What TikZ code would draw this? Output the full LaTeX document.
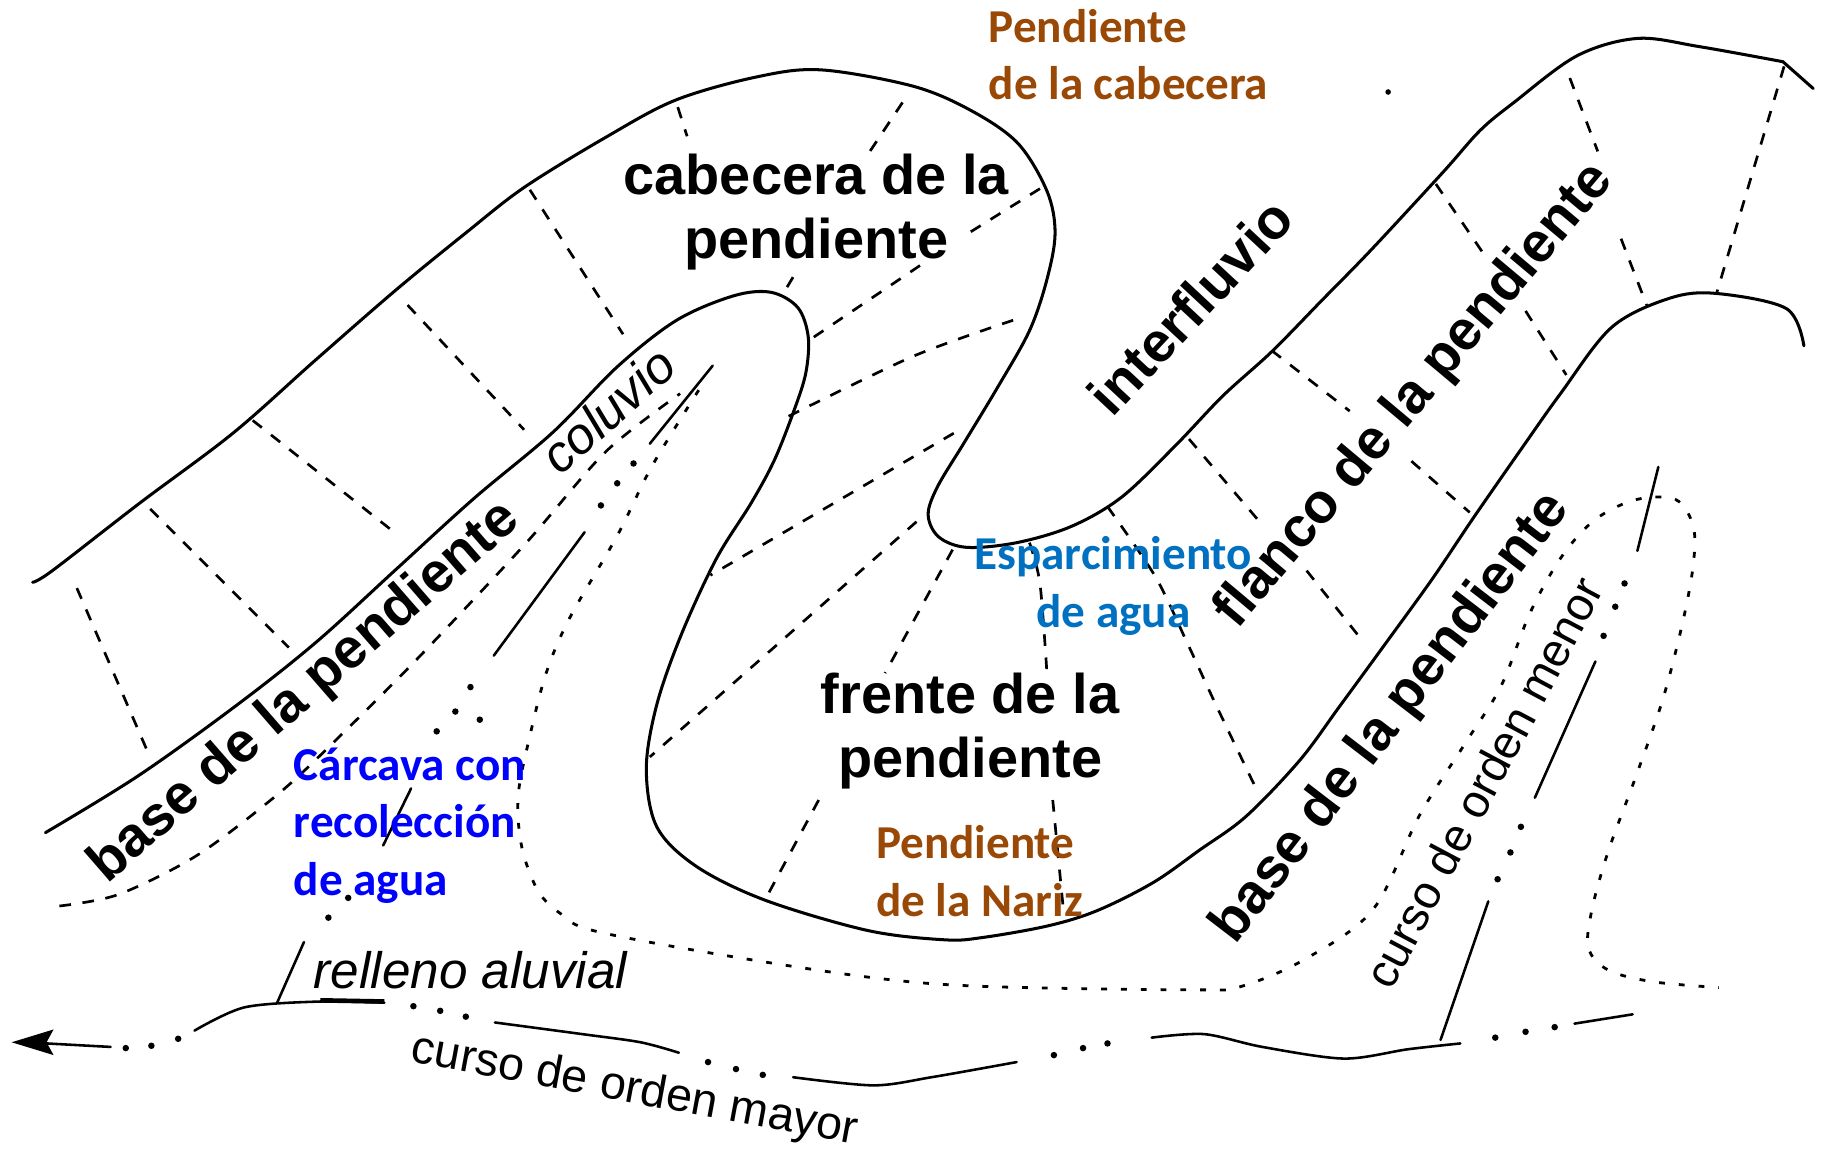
\documentclass[tikz,border=0pt]{standalone}
\usepackage{fontspec}
\setmainfont{Liberation Sans}
\newfontfamily\calib{Carlito}
\definecolor{brownlbl}{RGB}{153,72,6}
\definecolor{waterblue}{RGB}{0,112,192}
\definecolor{gullyblue}{RGB}{0,0,255}
\begin{document}
\begin{tikzpicture}[x=0.5pt,y=-0.5pt,
  edge/.style={line width=1.3pt, line join=round, line cap=round},
  cross/.style={line width=1.15pt, dash pattern=on 5pt off 5pt},
  dotline/.style={line width=1.2pt, dash pattern=on 2.5pt off 6pt},
  stream/.style={line width=1.1pt, line cap=round},
  bold/.style={font=\fontsize{24}{27.5}\selectfont\bfseries, inner sep=0pt, align=center},
  thin/.style={font=\fontsize{20}{24}\selectfont, inner sep=0pt},
  slant/.style={font=\fontsize{22}{26}\selectfont\itshape, inner sep=0pt},
  note/.style={font=\calib\fontsize{20.25}{24.8}\selectfont\bfseries, inner sep=0pt}
]
\useasboundingbox (0,0) rectangle (1568,990);

% outer ridge line (S shaped crest boundary)
\draw[edge] plot[smooth, tension=0.55] coordinates {
 (28,500) (45,490) (120,432) (200,372) (270,310) (340,249) (400,200) (450,161)
 (520,118) (580,86) (650,66) (705,60) (784,74) (834,95) (874,123) (899,164)
 (906,200) (899,240) (884,284) (857,332) (828,380) (805,418) (797,442) (806,461)
 (830,470) (873,466) (920,452) (963,427) (1009,383) (1050,340) (1092,302)
 (1135,258) (1177,215) (1239,148) (1271,112) (1300,88) (1354,48) (1406,33)
 (1459,40) (1531,53)} -- (1557,76);

% inner line (foot of the slopes)
\draw[edge] plot[smooth, tension=0.55] coordinates {
 (39,715) (119,666) (204,605) (272,551) (340,489) (407,428) (475,371) (530,315)
 (581,275) (630,254) (662,251) (685,264) (694,289) (692,320) (682,352) (665,395)
 (645,432) (615,480) (585,545) (564,605) (555,660) (564,710) (598,744) (657,773)
 (745,799) (811,807) (844,805) (900,795) (942,782) (990,758) (1030,730) (1070,701)
 (1116,653) (1150,607) (1188,555) (1230,497) (1265,445) (1306,386) (1340,338)
 (1384,281) (1434,256) (1474,252) (1534,265) (1549,297)};

% slope divisions, left ridge
\draw[cross] (66,505) -- (127,646);
\draw[cross] (129,437) -- (248,556);
\draw[cross] (217,361) -- (341,459);
\draw[cross] (350,262) -- (450,369);
\draw[cross] (455,163) -- (535,287);
\draw[cross] (582,92) -- (590,117);
\draw[cross] (775,88) -- (745,133);
\draw[cross] (681,238) -- (672,253);
\draw[cross] (893,162) -- (832,200);
\draw[cross] (790,228) -- (698,290);

% slope divisions, nose
\draw[cross] plot[smooth] coordinates {(870,275) (784,306) (676,358)};
\draw[cross] (819,372) -- (610,494);
\draw[cross] (787,448) -- (558,650);
\draw[cross] (818,472) -- (760,578);
\draw[cross] (703,687) -- (660,767);
\draw[cross] plot[smooth] coordinates {(884,466) (893,501) (899,578)};
\draw[cross] (904,687) -- (913,780);

% slope divisions, right ridge
\draw[cross] plot[smooth] coordinates {(951,435) (992,495) (1019,551) (1044,605) (1079,678)};
\draw[cross] (1021,377) -- (1085,452);
\draw[cross] (1122,490) -- (1169,549);
\draw[cross] (1092,301) -- (1159,353);
\draw[cross] (1212,396) -- (1262,440);
\draw[cross] (1233,158) -- (1274,218);
\draw[cross] (1310,267) -- (1345,322);
\draw[cross] (1348,67) -- (1372,130);
\draw[cross] (1392,205) -- (1414,262);
\draw[cross] (1532,57) -- (1474,252);
\fill (1192,79) circle[radius=1.2pt];

% colluvium limit
\draw[cross] plot[smooth] coordinates {(51,778) (102,768) (170,734) (241,680)
 (292,632) (360,564) (452,466) (520,388) (584,338)};

% alluvial fill limit
\draw[dotline] plot[smooth, tension=0.55] coordinates {
 (600,335) (560,400) (530,460) (489,531) (469,578) (455,632) (445,683) (448,727)
 (462,765) (482,785) (509,799) (614,819) (745,839) (844,847) (1030,850) (1066,847)
 (1120,824) (1179,781) (1219,700) (1259,637) (1289,589) (1314,526) (1341,478)
 (1370,446) (1405,429) (1439,429) (1454,452) (1454,485) (1445,534) (1428,600)
 (1405,666) (1381,731) (1367,781) (1364,814) (1381,833) (1419,843) (1476,848)};

% gully channel
\draw[stream] (612,314) -- (558,381);
\foreach \p in {(544,398),(530,415),(516,434)} \fill \p circle[radius=1.4pt];
\draw[stream] (502,457) -- (424,563);
\foreach \p in {(404,590),(391,611),(375,628),(412,618)} \fill \p circle[radius=1.4pt];
\draw[stream] (353,677) -- (329,726);
\foreach \p in {(299,771),(282,788)} \fill \p circle[radius=1.4pt];
\draw[stream] (261,809) -- (238,861);

% minor stream
\draw[stream] (1237,893) -- (1278,774);
\foreach \p in {(1286,755),(1297,732),(1306,710)} \fill \p circle[radius=1.4pt];
\draw[stream] (1318,685) -- (1370,568);
\foreach \p in {(1377,546),(1387,521),(1395,501)} \fill \p circle[radius=1.4pt];
\draw[stream] (1406,473) -- (1424,401);

% major stream
\fill (10,895) -- (46,884) -- (40,895) -- (46,906) -- cycle;
\draw[stream] (40,896) -- (95,899);
\foreach \p in {(108,900),(130,898),(153,892)} \fill \p circle[radius=1.4pt];
\draw[stream] plot[smooth] coordinates {(167,885) (210,865) (275,860) (330,861)};
\draw[line width=2pt] (275,859) -- (330,860);
\foreach \p in {(355,864),(378,868),(400,873)} \fill \p circle[radius=1.4pt];
\draw[stream] plot[smooth] coordinates {(425,878) (500,888) (550,895) (583,904)};
\foreach \p in {(608,912),(632,918),(655,923)} \fill \p circle[radius=1.4pt];
\draw[stream] plot[smooth] coordinates {(681,925) (750,932) (800,925) (873,912)};
\foreach \p in {(905,906),(930,900),(951,896)} \fill \p circle[radius=1.4pt];
\draw[stream] plot[smooth] coordinates {(989,891) (1034,888) (1084,899) (1154,909) (1209,901) (1254,896)};
\foreach \p in {(1284,891),(1310,886),(1335,882)} \fill \p circle[radius=1.4pt];
\draw[stream] (1352,879) -- (1402,871);

% landform labels
\node[bold] (head) at (701,182) {cabecera de la\\pendiente};
\node[bold] (front) at (833,628) {frente de la\\pendiente};
\node[bold, rotate=47] (interfl) at (1022,263) {interfluvio};
\node[bold, rotate=50] (flank) at (1215,340) {flanco de la pendiente};
\node[bold, rotate=41] (baseL) at (262,595) {base de la pendiente};
\node[bold, rotate=52.5] (baseR) at (1195,617) {base de la pendiente};
\node[slant, rotate=42] (coluv) at (522,352) {coluvio};
\node[slant] (alluv) at (404,833) {relleno aluvial};
\node[thin, rotate=-10.5] (major) at (545,937) {curso de orden mayor};
\node[thin, rotate=62] (minor) at (1274,672) {curso de orden menor};

% annotations
\node[note, text=brownlbl, align=left] (headslope) at (969,47) {Pendiente\\de la cabecera};
\node[note, text=waterblue, align=center] (spread) at (956,503) {Esparcimiento\\de agua};
\node[note, text=gullyblue, align=left] (gully) at (352,709) {Cárcava con\\recolección\\de agua};
\node[note, text=brownlbl, align=left] (noseslope) at (841,748) {Pendiente\\de la Nariz};
\end{tikzpicture}
\end{document}
